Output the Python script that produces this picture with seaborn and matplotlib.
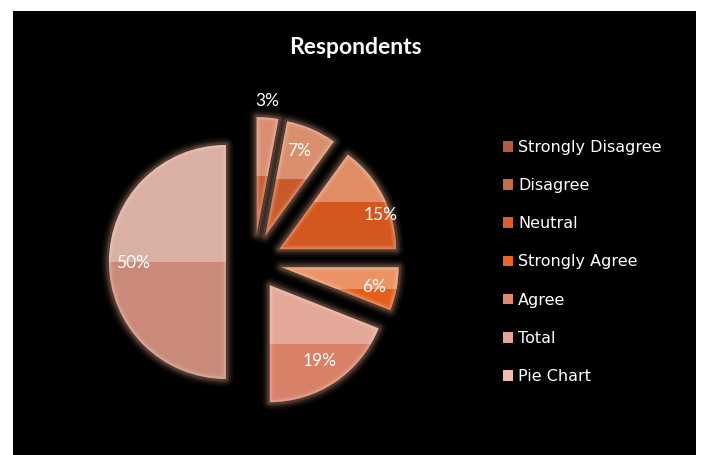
import numpy as np
import pandas as pd
import seaborn as sns
import matplotlib
matplotlib.use("Agg")
import matplotlib.pyplot as plt
from matplotlib.patches import Rectangle, Patch, PathPatch

# Survey responses (share of respondents)
categories = ["Strongly Disagree", "Disagree", "Neutral", "Strongly Agree",
              "Agree", "Total", "Pie Chart"]
values = [3, 7, 15, 6, 19, 50, 0]
slice_colors = ["#c65a2e", "#c85a2a", "#d2581f", "#e2601c",
                "#d88068", "#c98a7a", "#eab4a8"]
legend_colors = ["#b95a3c", "#c66a4c", "#dc5e2a", "#ee6224",
                 "#e2886e", "#e4a496", "#efbdb2"]
# where each percentage label sits (data units, pie radius = 1)
label_xy = [(0.11, 1.38), (0.385, 0.95), (1.08, 0.40), (1.03, -0.21),
            (0.56, -0.85), (-1.03, -0.01)]

sns.set_theme(style="dark")
plt.rcParams["font.family"] = ["DejaVu Sans"]

df = pd.DataFrame({"category": categories, "value": values,
                   "color": slice_colors, "legend_color": legend_colors})
drawn = df[df["value"] > 0].reset_index(drop=True)

fig = plt.figure(figsize=(7.02, 4.55), dpi=100, facecolor="white")

# black chart area
bg = fig.add_axes([13 / 702, 0, (696 - 13) / 702, (455 - 11) / 455], zorder=0)
bg.set_facecolor("black")
bg.set_xticks([])
bg.set_yticks([])
for s in bg.spines.values():
    s.set_visible(False)

ax = fig.add_axes([0, 0, 1, 1], zorder=1)
ax.set_facecolor("none")

wedges, _ = ax.pie(drawn["value"], colors=drawn["color"], startangle=90,
                   counterclock=False, explode=[0.24] * len(drawn),
                   radius=1.0, center=(0, 0), frame=True,
                   wedgeprops=dict(linewidth=0, zorder=3))
ax.set_xlim(-254 / 117, (702 - 254) / 117)
ax.set_ylim(-(455 - 262) / 117, 262 / 117)
ax.set_aspect("equal")
ax.axis("off")

for w, col in zip(wedges, drawn["color"]):
    path = w.get_path()
    # soft glow around each slice
    for lw, a in [(11, 0.05), (8, 0.07), (5.5, 0.10), (3.5, 0.15)]:
        ax.add_patch(PathPatch(path, facecolor="none", edgecolor="#f5b89c",
                               lw=lw, alpha=a, zorder=2, joinstyle="round"))
    # lighter upper half (glassy look)
    ext = path.get_extents()
    ymid = (ext.y0 + ext.y1) / 2
    hl = Rectangle((ext.x0 - 0.05, ymid), ext.width + 0.1, ext.y1 - ymid + 0.05,
                   facecolor="white", alpha=0.32, edgecolor="none", zorder=4)
    ax.add_patch(hl)
    hl.set_clip_path(w)
    # bevelled rim inside the slice edge
    for lw, a in [(6, 0.10), (3, 0.22)]:
        rim = PathPatch(path, facecolor="none", edgecolor="#ffe0d4", lw=lw,
                        alpha=a, zorder=5, joinstyle="miter")
        ax.add_patch(rim)
        rim.set_clip_path(w)

for (x, y), v in zip(label_xy, drawn["value"]):
    ax.text(x, y, f"{v}%", color="white", fontsize=12.5, family="Lato",
            ha="center", va="center", zorder=6)

fig.text(355 / 702, 1 - 47 / 455, "Respondents", color="white",
         fontsize=16.5, fontweight="bold", family="Lato",
         ha="center", va="center", zorder=3)

handles = [Patch(facecolor=c, edgecolor="none") for c in df["legend_color"]]
leg = fig.legend(handles, df["category"], loc="upper left",
                 bbox_to_anchor=(503 / 702, 1 - 140 / 455),
                 frameon=False, fontsize=11.5, labelcolor="white",
                 handlelength=0.65, handleheight=0.65, handletextpad=0.3,
                 labelspacing=1.45, borderpad=0, borderaxespad=0)
leg.set_zorder(3)

fig.savefig("out.png", dpi=100, facecolor="white")
